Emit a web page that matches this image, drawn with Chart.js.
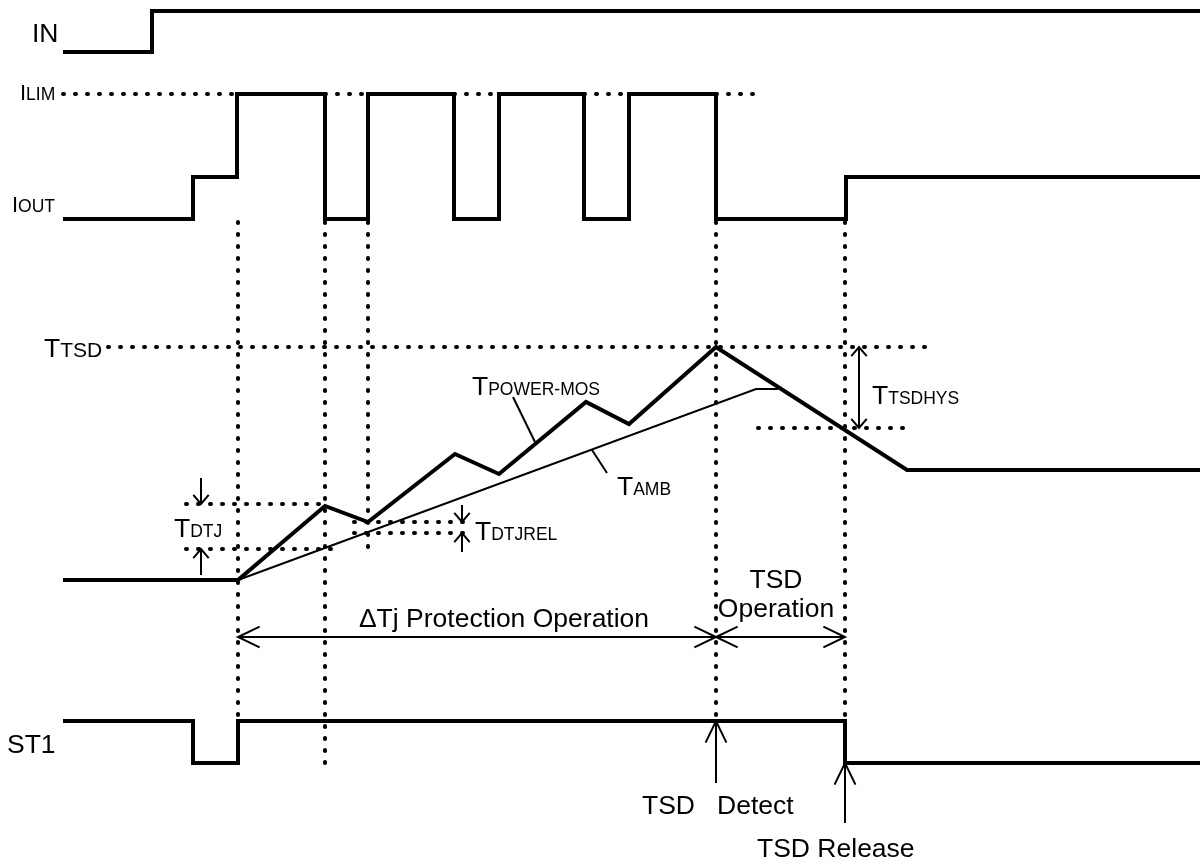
<!DOCTYPE html>
<html>
<head>
<meta charset="utf-8">
<script src="https://cdn.jsdelivr.net/npm/chart.js@4"></script>
<style>
body{margin:0;background:#fff;}
</style>
</head>
<body>
<canvas id="myChart" width="1200" height="863"></canvas>
<script>
// time runs 0..1200 left to right, level runs 0..863 top to bottom
var inTime  = [63, 152, 152, 1200];
var inLevel = [52, 52, 11, 11];

var ioutTime  = [63,193,193,237,237,325,325,368,368,454,454,499,499,584,584,629,629,716,716,846,846,1200];
var ioutLevel = [219,219,177,177,94,94,219,219,94,94,219,219,94,94,219,219,94,94,219,219,177,177];

// T power-mos (junction) and T amb
var tjTime  = [63,238,325,368,455,499,586,629,716,907,1200];
var tjLevel = [580,580,506,522,454,474,402,424,347,470,470];
var tambTime  = [238,756,778];
var tambLevel = [580,389,389];

var st1Time  = [63,193,193,238,238,845,845,1200];
var st1Level = [721,721,763,763,721,721,763,763];

// dotted guides: t1, level1, t2, level2
var guideLines = [
	[63,94,237,94],[325,94,368,94],[454,94,499,94],[584,94,629,94],[716,94,760,94],
	[108,347,932,347],[758,428,905,428],
	[186,504,325,504],[186,549,333,549],[354,522,463,522],[354,533,463,533],
	[238,222,238,763],[325,222,325,765],[368,222,368,555],[716,222,716,721],[845,222,845,721]
];

// arrows: t1, level1, t2, level2, heads (0 none, 1 end, 2 both), small head
var arrows = [
	[201,478,201,504,1,1],[201,575,201,549,1,1],
	[462,505,462,522,1,1],[462,552,462,533,1,1],
	[859,347,859,428,2,1],
	[238,637,716,637,2,0],[716,637,845,637,2,0],
	[716,783,716,721,1,0],[845,823,845,763,1,0],
	[513,397,535,442,0,0],[592,450,607,473,0,0]
];

var labels = [
	{t:32, l:42, main:'IN', sub:''},
	{t:20, l:100, main:'I', sub:'LIM', small:true},
	{t:12, l:212, main:'I', sub:'OUT', small:true},
	{t:44, l:357, main:'T', sub:'TSD', bigSub:true},
	{t:472, l:395, main:'T', sub:'POWER-MOS'},
	{t:617, l:495, main:'T', sub:'AMB'},
	{t:174, l:537, main:'T', sub:'DTJ'},
	{t:475, l:540, main:'T', sub:'DTJREL'},
	{t:872, l:404, main:'T', sub:'TSDHYS'},
	{t:504, l:627, main:'\u0394Tj Protection Operation', sub:'', center:true},
	{t:776, l:588, main:'TSD', sub:'', center:true},
	{t:776, l:617, main:'Operation', sub:'', center:true},
	{t:642, l:814, main:'TSD', sub:''},
	{t:717, l:814, main:'Detect', sub:''},
	{t:757, l:857, main:'TSD Release', sub:''},
	{t:7, l:753, main:'ST1', sub:''}
];

var FONT = "'Liberation Sans', Arial, sans-serif";

var toPoints = function(ts, ls){
	var pts = [];
	for (var i = 0; i < ts.length; i++) {
		pts.push({x: ts[i], y: ls[i]});
	}
	return pts;
}

var trace = function(ts, ls, width){
	return {
		data: toPoints(ts, ls),
		borderColor: '#000',
		borderWidth: width,
		borderJoinStyle: 'miter',
		showLine: true,
		pointRadius: 0,
		fill: false
	};
}

var datasets = [
	trace(inTime, inLevel, 4),
	trace(ioutTime, ioutLevel, 4),
	trace(tambTime, tambLevel, 2),
	trace(tjTime, tjLevel, 4),
	trace(st1Time, st1Level, 4)
];

guideLines.forEach(function(g){
	datasets.push({
		data: [{x: g[0], y: g[1]}, {x: g[2], y: g[3]}],
		borderColor: '#000',
		borderWidth: 4,
		borderDash: [1, 11],
		borderCapStyle: 'round',
		showLine: true,
		pointRadius: 0
	});
});

var overlay = {
	id: 'overlay',
	afterDatasetsDraw: function(chart){
		var ctx = chart.ctx;
		var xs = chart.scales.x, ys = chart.scales.y;
		ctx.save();
		ctx.strokeStyle = '#000';
		ctx.fillStyle = '#000';
		ctx.lineWidth = 2;
		ctx.lineCap = 'butt';

		var head = function(x, y, fromX, fromY, small){
			var a = Math.atan2(y - fromY, x - fromX);
			var len = small ? 12 : 24;
			var spread = small ? 0.7 : 0.45;
			ctx.beginPath();
			ctx.moveTo(x - len*Math.cos(a - spread), y - len*Math.sin(a - spread));
			ctx.lineTo(x, y);
			ctx.lineTo(x - len*Math.cos(a + spread), y - len*Math.sin(a + spread));
			ctx.stroke();
		}

		arrows.forEach(function(a){
			var x1 = xs.getPixelForValue(a[0]), y1 = ys.getPixelForValue(a[1]);
			var x2 = xs.getPixelForValue(a[2]), y2 = ys.getPixelForValue(a[3]);
			ctx.beginPath();
			ctx.moveTo(x1, y1);
			ctx.lineTo(x2, y2);
			ctx.stroke();
			if (a[4] >= 1) head(x2, y2, x1, y1, a[5]);
			if (a[4] == 2) head(x1, y1, x2, y2, a[5]);
		});

		ctx.textBaseline = 'alphabetic';
		ctx.textAlign = 'left';
		labels.forEach(function(lb){
			var x = xs.getPixelForValue(lb.t), y = ys.getPixelForValue(lb.l);
			var mainFont = (lb.small ? 22 : 26.5) + 'px ' + FONT;
			var subFont = (lb.bigSub ? 21 : 17.5) + 'px ' + FONT;
			ctx.font = mainFont;
			var w = ctx.measureText(lb.main).width;
			var total = w;
			if (lb.sub) {
				ctx.font = subFont;
				total += ctx.measureText(lb.sub).width;
			}
			if (lb.center) x -= total/2;
			ctx.font = mainFont;
			ctx.fillText(lb.main, x, y);
			if (lb.sub) {
				ctx.font = subFont;
				ctx.fillText(lb.sub, x + w, y);
			}
		});
		ctx.restore();
	}
};

var ctx = document.getElementById('myChart').getContext('2d');
var chart = new Chart(ctx, {
	type: 'scatter',
	data: { datasets: datasets },
	options: {
		responsive: false,
		devicePixelRatio: 1,
		animation: false,
		layout: { padding: 0 },
		plugins: { legend: { display: false }, tooltip: { enabled: false } },
		scales: {
			x: { type: 'linear', min: 0, max: 1200, display: false },
			y: { type: 'linear', min: 0, max: 863, reverse: true, display: false }
		}
	},
	plugins: [overlay]
});
</script>
</body>
</html>
